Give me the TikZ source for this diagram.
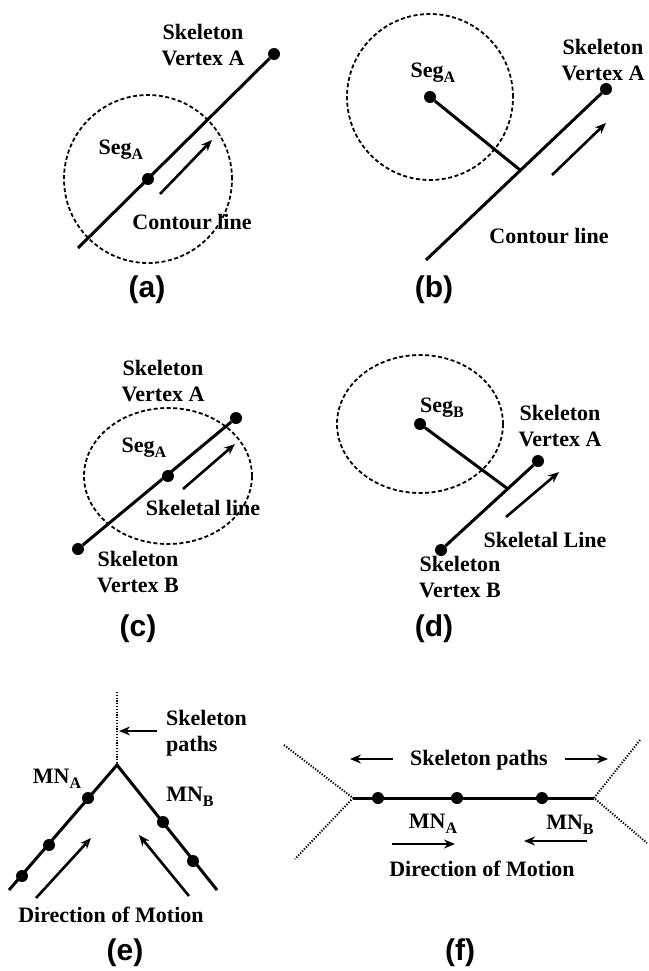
\documentclass[tikz,border=0pt]{standalone}
\usepackage{fontspec}
\setmainfont{Liberation Serif}
\newfontfamily\capfont{Liberation Sans}
\usetikzlibrary{arrows.meta}
\newcommand\lowsub[1]{\raisebox{-5pt}{\fontsize{16}{16}\selectfont #1}}

\begin{document}
\begin{tikzpicture}[x=1pt, y=-1pt,
    vdot/.style={circle, fill, inner sep=0pt, minimum size=12pt},
    lbl/.style={font=\fontsize{22}{26}\selectfont\bfseries, align=center, inner sep=0pt},
    panel/.style={font=\capfont\bfseries\fontsize{30}{34}\selectfont, inner sep=0pt},
    seg/.style={line width=3pt},
    mv/.style={line width=2.6pt, -{Stealth[length=11pt, width=9pt]}},
    zone/.style={line width=1.8pt, dash pattern=on 4pt off 2.5pt},
    spath/.style={line width=2pt, dash pattern=on 1.2pt off 1.6pt}]
    \useasboundingbox (0,0) rectangle (648,971);

    % (a)
    \node[vdot] (aV) at (274,54) {};
    \node[vdot] (aS) at (148,179) {};
    \coordinate (aE) at (78,248);
    \coordinate (aM1) at (160,194);
    \coordinate (aM2) at (212,140);
    \draw[seg] (aV) -- (aE);
    \draw[zone] (aS) circle [radius=84pt];
    \draw[mv] (aM1) -- (aM2);
    \node[lbl] (aVl) at (203,45) {Skeleton\\Vertex A};
    \node[lbl] (aSl) at (121,150) {Seg\lowsub{A}};
    \node[lbl] (aCl) at (192,222) {Contour line};
    \node[panel] (aP) at (147,290) {(a)};

    % (b)
    \node[vdot] (bS) at (430,97) {};
    \node[vdot] (bV) at (606,89) {};
    \coordinate (bJ) at (520,170);
    \coordinate (bE) at (426,260);
    \coordinate (bM1) at (552,175);
    \coordinate (bM2) at (606,123);
    \draw[seg] (bS) -- (bJ);
    \draw[seg] (bE) -- (bV);
    \draw[zone] (bS) circle [radius=83pt];
    \draw[mv] (bM1) -- (bM2);
    \node[lbl] (bSl) at (433,73) {Seg\lowsub{A}};
    \node[lbl] (bVl) at (603,60) {Skeleton\\Vertex A};
    \node[lbl] (bCl) at (549,236) {Contour line};
    \node[panel] (bP) at (434,290) {(b)};

    % (c)
    \node[vdot] (cA) at (236,418) {};
    \node[vdot] (cB) at (78,549) {};
    \node[vdot] (cS) at (168,476) {};
    \coordinate (cM1) at (183,489);
    \coordinate (cM2) at (235,444);
    \draw[seg] (cB) -- (cA);
    \draw[zone] (cS) circle [x radius=84pt, y radius=68pt];
    \draw[mv] (cM1) -- (cM2);
    \node[lbl] (cAl) at (163,381) {Skeleton\\Vertex A};
    \node[lbl] (cSl) at (144,448) {Seg\lowsub{A}};
    \node[lbl] (cLl) at (203,508) {Skeletal line};
    \node[lbl] (cBl) at (138,572) {Skeleton\\Vertex B};
    \node[panel] (cP) at (138,629) {(c)};

    % (d)
    \node[vdot] (dS) at (420,424) {};
    \node[vdot] (dA) at (538,461) {};
    \node[vdot] (dB) at (441,550) {};
    \coordinate (dJ) at (508,489);
    \coordinate (dM1) at (506,517);
    \coordinate (dM2) at (559,472);
    \draw[seg] (dS) -- (dJ);
    \draw[seg] (dB) -- (dA);
    \draw[zone] (dS) circle [x radius=83pt, y radius=69pt];
    \draw[mv] (dM1) -- (dM2);
    \node[lbl] (dSl) at (442,408) {Seg\lowsub{B}};
    \node[lbl] (dAl) at (560,426) {Skeleton\\Vertex A};
    \node[lbl] (dLl) at (545,540) {Skeletal Line};
    \node[lbl] (dBl) at (460,577) {Skeleton\\Vertex B};
    \node[panel] (dP) at (434,629) {(d)};

    % (e)
    \coordinate (eT) at (117,692);
    \coordinate (eJ) at (117,765);
    \coordinate (eL) at (9,890);
    \coordinate (eR) at (217,890);
    \draw[spath] (eT) -- (eJ);
    \draw[seg] (eL) -- (eJ) -- (eR);
    \node[vdot] (e1) at (88,798) {};
    \node[vdot] (e2) at (49,845) {};
    \node[vdot] (e3) at (22,876) {};
    \node[vdot] (e4) at (163,822) {};
    \node[vdot] (e5) at (193,861) {};
    \coordinate (eM1) at (36,898);
    \coordinate (eM2) at (91,838);
    \coordinate (eM3) at (189,896);
    \coordinate (eM4) at (139,835);
    \coordinate (eP1) at (157,731);
    \coordinate (eP2) at (119,731);
    \draw[mv] (eM1) -- (eM2);
    \draw[mv] (eM3) -- (eM4);
    \draw[mv] (eP1) -- (eP2);
    \node[lbl, align=left, anchor=west] (ePl) at (166,733) {Skeleton\\paths};
    \node[lbl] (eAl) at (57,779) {MN\lowsub{A}};
    \node[lbl] (eBl) at (190,797) {MN\lowsub{B}};
    \node[lbl] (eDl) at (111,915) {Direction of Motion};
    \node[panel] (eP) at (125,953) {(e)};

    % (f)
    \coordinate (fL) at (353,798);
    \coordinate (fR) at (594,798);
    \coordinate (fLu) at (284,745);
    \coordinate (fLd) at (295,859);
    \coordinate (fRu) at (640,740);
    \coordinate (fRd) at (647,843);
    \draw[spath] (fLu) -- (fL) -- (fLd);
    \draw[spath] (fRu) -- (fR) -- (fRd);
    \draw[seg] (fL) -- (fR);
    \node[vdot] (f1) at (378,798) {};
    \node[vdot] (f2) at (457,798) {};
    \node[vdot] (f3) at (542,798) {};
    \coordinate (fP1) at (393,759);
    \coordinate (fP2) at (350,759);
    \coordinate (fP3) at (565,759);
    \coordinate (fP4) at (608,759);
    \coordinate (fM1) at (392,844);
    \coordinate (fM2) at (455,844);
    \coordinate (fM3) at (587,841);
    \coordinate (fM4) at (524,841);
    \draw[mv] (fP1) -- (fP2);
    \draw[mv] (fP3) -- (fP4);
    \draw[mv] (fM1) -- (fM2);
    \draw[mv] (fM3) -- (fM4);
    \node[lbl] (fPl) at (479,760) {Skeleton paths};
    \node[lbl] (fAl) at (433,824) {MN\lowsub{A}};
    \node[lbl] (fBl) at (570,825) {MN\lowsub{B}};
    \node[lbl] (fDl) at (482,869) {Direction of Motion};
    \node[panel] (fP) at (460,953) {(f)};
\end{tikzpicture}
\end{document}
